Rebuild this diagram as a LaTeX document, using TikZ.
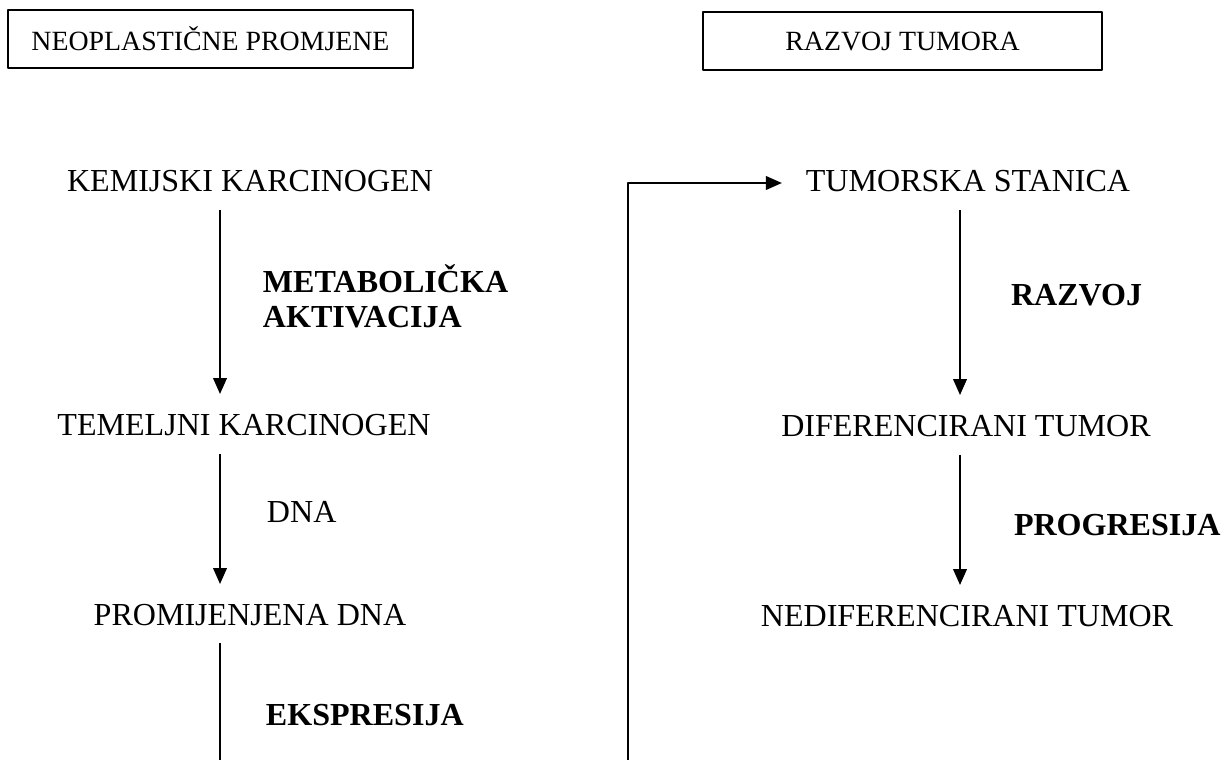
\documentclass[tikz,border=0pt]{standalone}
\usepackage{fontspec}
\setmainfont{Liberation Serif}
\usetikzlibrary{arrows.meta}
\begin{document}
\begin{tikzpicture}[>={Triangle[length=4mm,width=3.4mm]},line join=round,x=0.25mm,y=-0.25mm,line width=1.4pt]
	\tikzset{
		txt/.style={inner sep=0pt,text height=5.5mm,text depth=1.5mm,font=\fontsize{22.8}{26}\selectfont},
		lbl/.style={txt,font=\fontsize{22.8}{26}\selectfont\bfseries},
		naslov/.style={draw,inner sep=0pt,minimum height=14.5mm,font=\fontsize{19.8}{23}\selectfont},
		veza/.style={->,shorten <=3mm,shorten >=4.5mm}
	}
	\useasboundingbox (0,0) rectangle (1231,760);
	% naslovi
	\node[naslov,minimum width=101.25mm] (neo) at (210.5,39) {NEOPLASTIČNE PROMJENE};
	\node[naslov,minimum width=99.75mm] (raz) at (902.5,41) {RAZVOJ TUMORA};
	% lijevi stupac
	\node[txt,anchor=base] (kem) at (250,191) {KEMIJSKI KARCINOGEN};
	\node[txt,anchor=base] (tem) at (244,435) {TEMELJNI KARCINOGEN};
	\node[txt,anchor=base] (prom) at (250,625) {PROMIJENJENA DNA};
	\node[lbl,anchor=base west] (metab) at (262,292) {METABOLIČKA};
	\node[lbl,anchor=base west] (aktiv) at (262,327) {AKTIVACIJA};
	\node[txt,anchor=base west] (dna) at (266,522) {DNA};
	\node[lbl,anchor=base west] (ekspr) at (265,725) {EKSPRESIJA};
	% desni stupac
	\node[txt,anchor=base] (tum) at (968,191) {TUMORSKA STANICA};
	\node[txt,anchor=base] (dif) at (966,436) {DIFERENCIRANI TUMOR};
	\node[txt,anchor=base] (ned) at (967,626) {NEDIFERENCIRANI TUMOR};
	\node[lbl,anchor=base west] (razv) at (1010,305) {RAZVOJ};
	\node[lbl,anchor=base west] (progr) at (1013,535) {PROGRESIJA};
	\path (220,0) coordinate (lx) (960,0) coordinate (rx)
		(220,760) coordinate (lbot) (628,760) coordinate (dbot);
	\foreach \prvi/\drugi/\stup in {kem/tem/lx,tem/prom/lx,tum/dif/rx,dif/ned/rx}{
		\draw[veza] (\prvi.south -| \stup) -- (\drugi.north -| \stup);
	}
	\draw[shorten <=2.75mm] (prom.south -| lx) -- (lbot);
	\draw[->,shorten >=5.75mm] (dbot) |- (tum.west);
\end{tikzpicture}
\end{document}
